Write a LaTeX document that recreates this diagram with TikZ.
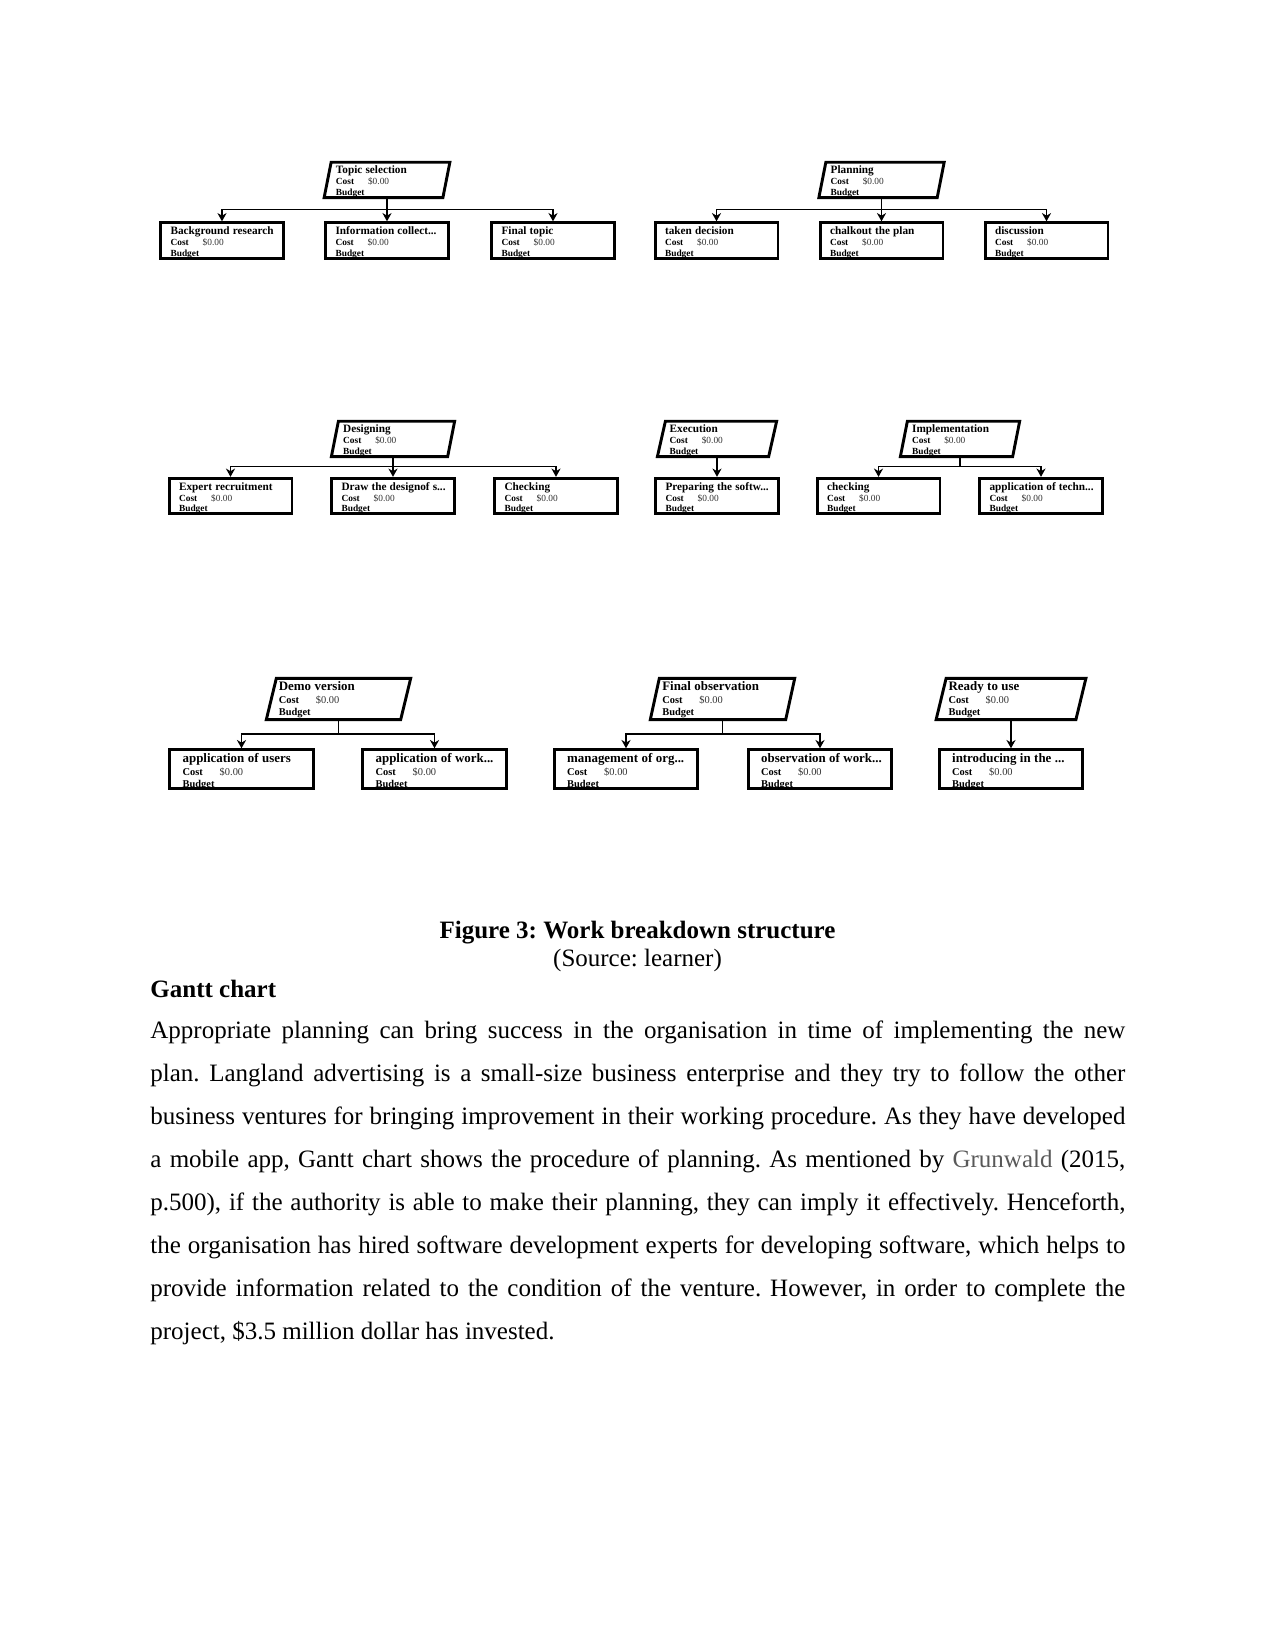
\documentclass[tikz,border=0pt]{standalone}
\usepackage{fontspec}
\setmainfont{Liberation Serif}
\usepackage{xcolor}
\usepackage{tikz}
\usetikzlibrary{arrows.meta, positioning, calc}
\definecolor{costgray}{HTML}{333333}
\definecolor{citegray}{HTML}{595959}
\newcommand{\wbs}[1]{\mbox{\fontsize{5.4}{5.2}\selectfont\bfseries #1}\\
  \makebox[15.4pt][l]{\bfseries Cost}\textcolor{costgray}{\$0.00}\\
  \textbf{Budget}}
\newcommand{\wbsbig}[1]{\mbox{\fontsize{6.2}{6.0}\selectfont\bfseries #1}\\
  \makebox[17.8pt][l]{\bfseries Cost}\textcolor{costgray}{\$0.00}\\
  \textbf{Budget}}
\tikzset{
  wbsfont/.style={font=\fontsize{4.5}{5.2}\selectfont},
  wbsbigfont/.style={font=\fontsize{5}{6.0}\selectfont},
  task/.style={rectangle, draw, line width=1.4pt, wbsfont, align=left, inner xsep=4.8pt, inner ysep=0pt, text width=49.4pt, minimum height=17pt, text height=5pt, text depth=10.5pt},
  taskbig/.style={rectangle, draw, line width=1.4pt, wbsbigfont, align=left, inner xsep=6.2pt, inner ysep=0pt, text width=56.5pt, minimum height=18.5pt, text height=6pt, text depth=12.1pt},
  phase/.style={rectangle, wbsfont, align=left, inner xsep=3.8pt, inner ysep=0pt, text width=#1, minimum height=16.6pt, text height=5pt, text depth=11pt},
  phasebig/.style={rectangle, wbsbigfont, align=left, inner xsep=3.4pt, inner ysep=0pt, text width=#1, minimum height=19.4pt, text height=5.5pt, text depth=13.3pt},
  phaseline/.style={line width=1.4pt, line join=miter},
  arr/.style={-{Stealth[length=4pt, width=4.4pt]}, line width=0.6pt},
  bodytext/.style={font=\fontsize{12}{20.7}\selectfont, inner sep=0pt},
  headtext/.style={font=\fontsize{12}{14}\selectfont\bfseries, inner sep=0pt},
}

\begin{document}
\frenchspacing
\begin{tikzpicture}[x=0.48pt, y=-0.48pt]
  \useasboundingbox (0,0) rectangle (1275,1650);
  % row 1
  \node[phase=49pt] (ts) at (387,180) {\wbs{Topic selection}};
  \node[task] (br) at (222,240.5) {\wbs{Background research}};
  \node[task] (ic) at (387,240.5) {\wbs{Information collect...}};
  \node[task] (ft) at (553,240.5) {\wbs{Final topic}};
  \node[phase=48.8pt] (pl) at (881.5,180) {\wbs{Planning}};
  \node[task] (td) at (716.5,240.5) {\wbs{taken decision}};
  \node[task] (cp) at (881.5,240.5) {\wbs{chalkout the plan}};
  \node[task] (dc) at (1046.5,240.5) {\wbs{discussion}};
  % row 2
  \node[phase=47.8pt] (ds) at (393,439) {\wbs{Designing}};
  \node[task] (er) at (230.5,496) {\wbs{Expert recruitment}};
  \node[task] (dd) at (393,496) {\wbs{Draw the designof s...}};
  \node[task] (ck) at (556,496) {\wbs{Checking}};
  \node[phase=45.4pt] (ex) at (717,439) {\wbs{Execution}};
  \node[task] (ps) at (717,496) {\wbs{Preparing the softw...}};
  \node[phase=45.9pt] (im) at (960,439) {\wbs{Implementation}};
  \node[task] (ch) at (878.5,496) {\wbs{checking}};
  \node[task] (at) at (1041,496) {\wbs{application of techn...}};
  % row 3
  \node[phasebig=57.3pt] (dv) at (338.5,699) {\wbsbig{Demo version}};
  \node[taskbig] (au) at (241.5,769) {\wbsbig{application of users}};
  \node[taskbig] (aw) at (434.5,769) {\wbsbig{application of work...}};
  \node[phasebig=57.8pt] (fo) at (722.5,699) {\wbsbig{Final observation}};
  \node[taskbig] (mo) at (626,769) {\wbsbig{management of org...}};
  \node[taskbig] (ow) at (820,769) {\wbsbig{observation of work...}};
  \node[phasebig=59.9pt] (ru) at (1011,699) {\wbsbig{Ready to use}};
  \node[taskbig] (it) at (1011,769) {\wbsbig{introducing in the ...}};

  \foreach \n/\s in {ts/3.5, pl/3.5, ds/3.5, ex/4, im/3.5, dv/5, fo/4.5, ru/5}
    \draw[phaseline] ($(\n.north west)+(\s,0)$) -- ($(\n.north east)+(\s,0)$) -- ($(\n.south east)-(\s,0)$) -- ($(\n.south west)-(\s,0)$) -- cycle;

  \foreach \p/\c in {ts/br, ts/ic, ts/ft, pl/td, pl/cp, pl/dc, ds/er, ds/dd, ds/ck, ex/ps, im/ch, im/at, dv/au, dv/aw, fo/mo, fo/ow, ru/it}
    \draw[arr] (\p.south) |- ($(\p.south)!.5!(\c.north)$) -| (\c.north);

  % caption and text
  \node[headtext, anchor=base] (fig) at (637.5,938) {Figure 3: Work breakdown structure};
  \node[bodytext, anchor=base] (src) at (637.5,966) {(Source: learner)};
  \node[headtext, anchor=base west] (gantt) at (150,997) {Gantt chart};
  \node[bodytext, anchor=base west, text width=468pt, align=justify] (para) at (150,1038) {\tolerance=9999\hyphenpenalty=10000
Appropriate planning can bring success in the organisation in time of implementing the new\linebreak
plan. Langland advertising is a small-size business enterprise and they try to follow the other\linebreak
business ventures for bringing improvement in their working procedure. As they have developed\linebreak
a mobile app, Gantt chart shows the procedure of planning. As mentioned by \textcolor{citegray}{Grunwald} (2015,\linebreak
p.500), if the authority is able to make their planning, they can imply it effectively. Henceforth,\linebreak
the organisation has hired software development experts for developing software, which helps to\linebreak
provide information related to the condition of the venture. However, in order to complete the\linebreak
project, \$3.5 million dollar has invested.};
\end{tikzpicture}
\end{document}
